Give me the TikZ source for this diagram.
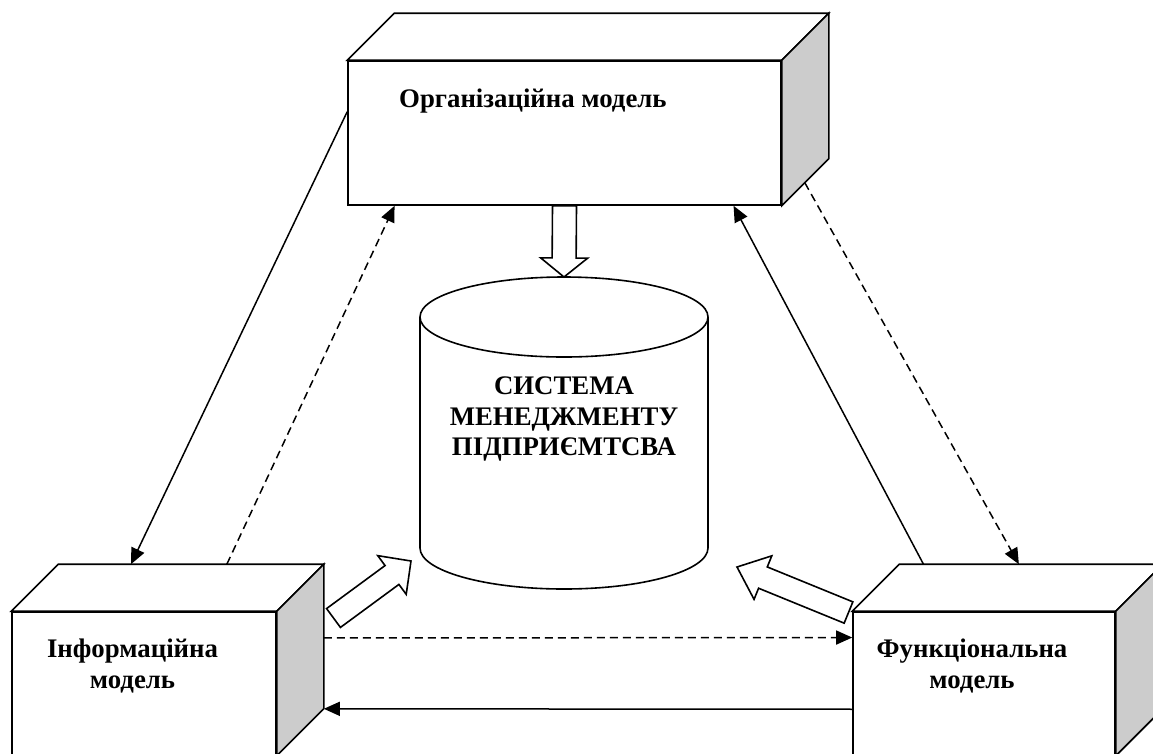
\documentclass[tikz,border=0pt]{standalone}
\usepackage{fontspec}
\setmainfont{Liberation Serif}
\usetikzlibrary{calc,arrows.meta}
\definecolor{sidegray}{RGB}{204,204,204}
\tikzset{
  face/.style={draw,line width=1.6pt,fill=white,inner sep=0pt},
  topface/.style={draw,line width=1.6pt,fill=white},
  sideface/.style={draw,line width=1.6pt,fill=sidegray},
  lab/.style={font=\fontsize{26.8}{31}\selectfont\bfseries,align=center,inner sep=0pt},
  conn/.style={line width=1.5pt,-{Triangle[length=16pt,width=14pt]}},
  dsh/.style={conn,dash pattern=on 8pt off 5pt},
  blk/.style={draw,line width=1.6pt,fill=white,line join=miter},
}
\newcommand\boxdepth[1]{%
  \draw[topface] (#1.north west) -- ++(47,-47) -- ($(#1.north east)+(47,-47)$) -- (#1.north east) -- cycle;
  \draw[sideface] (#1.north east) -- ++(47,-47) -- ($(#1.south east)+(47,-47)$) -- (#1.south east) -- cycle;}
\newcommand\blockarr[5]{%
  \coordinate (bab) at ($(#2)!#5!(#1)$);
  \draw[blk] ($(#1)!#3!90:(#2)$) -- ($(bab)!#3!90:(#2)$) -- ($(bab)!#4!90:(#2)$) -- (#2)
    -- ($(bab)!#4!-90:(#2)$) -- ($(bab)!#3!-90:(#2)$) -- ($(#1)!#3!-90:(#2)$) -- cycle;}
\begin{document}
\begin{tikzpicture}[x=1pt,y=-1pt]
\useasboundingbox (0,0) rectangle (1153,753);
\fill[white] (0,0) rectangle (1153,753);
\clip (0,0) rectangle (1153,753);

% boxes
\node[face,minimum width=433pt,minimum height=144pt] (org) at (564.5,133) {};
\boxdepth{org}
\node[face,minimum width=264pt,minimum height=143pt] (info) at (144,683.5) {};
\boxdepth{info}
\node[face,minimum width=262pt,minimum height=143pt] (func) at (984,683.5) {};
\boxdepth{func}

\node[lab,anchor=base west] (orgtxt) at (399,107) {Організаційна модель};
\node[lab] (infotxt) at (132.5,666) {Інформаційна\\модель};
\node[lab] (functxt) at (972,666.5) {Функціональна\\модель};

% cylinder
\draw[blk] (420,317) -- (420,548) arc[start angle=180,end angle=360,x radius=144pt,y radius=41pt] -- (708,317);
\draw[line width=1.6pt,fill=white] (564,317) ellipse [x radius=144pt,y radius=40pt];
\coordinate (cyltop) at (564,277);
\node[lab,align=center] (sys) at (564,419) {СИСТЕМА\\[-0.5pt]МЕНЕДЖМЕНТУ\\[-0.5pt]ПІДПРИЄМТСВА};

% helper coordinates on the boxes
\coordinate (infoBL) at ($(info.north west)+(47,-47)$);
\coordinate (infoBR) at ($(info.north east)+(47,-47)$);
\coordinate (infoBSE) at ($(info.south east)+(47,-47)$);
\coordinate (funcBL) at ($(func.north west)+(47,-47)$);
\coordinate (funcBR) at ($(func.north east)+(47,-47)$);
\coordinate (orgBSE) at ($(org.south east)+(47,-47)$);

% connectors
\draw[conn] ($(org.north west)!0.354!(org.south west)$) -- ($(infoBL)!0.274!(infoBR)$);
\draw[dsh] ($(infoBL)!0.635!(infoBR)$) -- ($(org.south west)!0.109!(org.south east)$);
\draw[conn] ($(funcBL)!0.092!(funcBR)$) -- ($(org.south west)!0.889!(org.south east)$);
\draw[dsh] ($(org.south east)!0.49!(orgBSE)$) -- ($(funcBL)!0.454!(funcBR)$);
\draw[dsh] ($(infoBR)!0.51!(infoBSE)$) -- ($(func.north west)!0.182!(func.south west)$);
\draw[conn] ($(func.north west)!0.678!(func.south west)$) -- (infoBSE);

% block arrows
\coordinate (lat) at (333.5,618);
\coordinate (lah) at (411,561);
\coordinate (rat) at (848.5,612.5);
\coordinate (rah) at (737,567);
\blockarr{org.south}{cyltop}{12pt}{23.5pt}{19pt}
\blockarr{lat}{lah}{11.7pt}{24pt}{23.6pt}
\blockarr{rat}{rah}{11.5pt}{23.5pt}{28pt}
\end{tikzpicture}
\end{document}
